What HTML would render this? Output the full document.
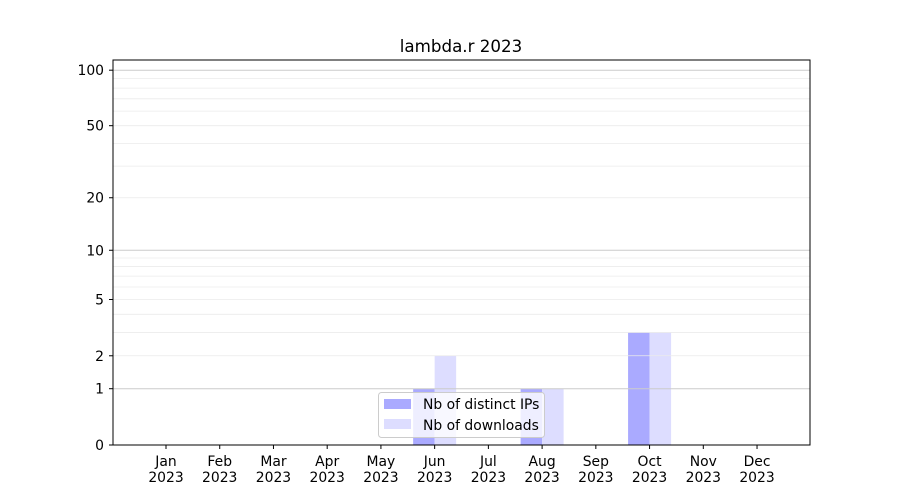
<!DOCTYPE html>
<html><head><meta charset="utf-8"><style>body{margin:0;background:#fff}svg{display:block}text{font-family:"DejaVu Sans","Liberation Sans",sans-serif;font-size:13.9px;fill:#000}</style></head>
<body>
<svg width="900" height="500" xmlns="http://www.w3.org/2000/svg">
<rect width="900" height="500" fill="#fff"/>
<g id="bars"></g>
<g id="grid"></g>
<rect x="113" y="60" width="697" height="385" fill="none" stroke="#000" stroke-width="1"/>
<text x="461" y="52" text-anchor="middle" style="font-size:16.7px">lambda.r 2023</text>
<g id="yt"></g>
<g id="xt"></g>
<rect x="378.5" y="392.5" width="166" height="45" rx="3" fill="#fff" fill-opacity="0.8" stroke="#ccc"/>
<rect x="384" y="399" width="27" height="10" fill="#aaaaff"/>
<rect x="384" y="419" width="27" height="10" fill="#ddddff"/>
<text x="423" y="409">Nb of distinct IPs</text>
<text x="423" y="430">Nb of downloads</text>
<script>
var ns="http://www.w3.org/2000/svg";
function Y(v){return 445-Math.log10(1+v)*187;}
function el(p,t,a,txt){var e=document.createElementNS(ns,t);for(var k in a)e.setAttribute(k,a[k]);if(txt)e.textContent=txt;document.getElementById(p).appendChild(e);}
var lv=[2,3,4,5,6,7,8,9,20,30,40,50,60,70,80,90];
lv.forEach(function(v){el("grid","line",{x1:113,x2:810,y1:Y(v),y2:Y(v),stroke:"#ebebeb","stroke-width":0.8});});
[1,10,100].forEach(function(v){el("grid","line",{x1:113,x2:810,y1:Y(v),y2:Y(v),stroke:"#cccccc","stroke-width":1});});
[0,1,2,5,10,20,50,100].forEach(function(v){var y=Y(v);el("yt","line",{x1:109,x2:113,y1:y,y2:y,stroke:"#000"});el("yt","text",{x:104,y:y+5,"text-anchor":"end"},String(v));});
var m=["Jan","Feb","Mar","Apr","May","Jun","Jul","Aug","Sep","Oct","Nov","Dec"];
m.forEach(function(n,i){var x=166+i*53.73;el("xt","line",{x1:x,x2:x,y1:445,y2:449,stroke:"#000"});el("xt","text",{x:x,y:466,"text-anchor":"middle"},n);el("xt","text",{x:x,y:482,"text-anchor":"middle"},"2023");});
var d=[[5,1,2],[7,1,1],[9,3,3]];
d.forEach(function(r){var c=166+r[0]*53.73;el("bars","rect",{x:c-21.5,y:Y(r[1]),width:21.5,height:445-Y(r[1]),fill:"#aaaaff"});el("bars","rect",{x:c,y:Y(r[2]),width:21.5,height:445-Y(r[2]),fill:"#ddddff"});});
</script>
</svg>
</body></html>
